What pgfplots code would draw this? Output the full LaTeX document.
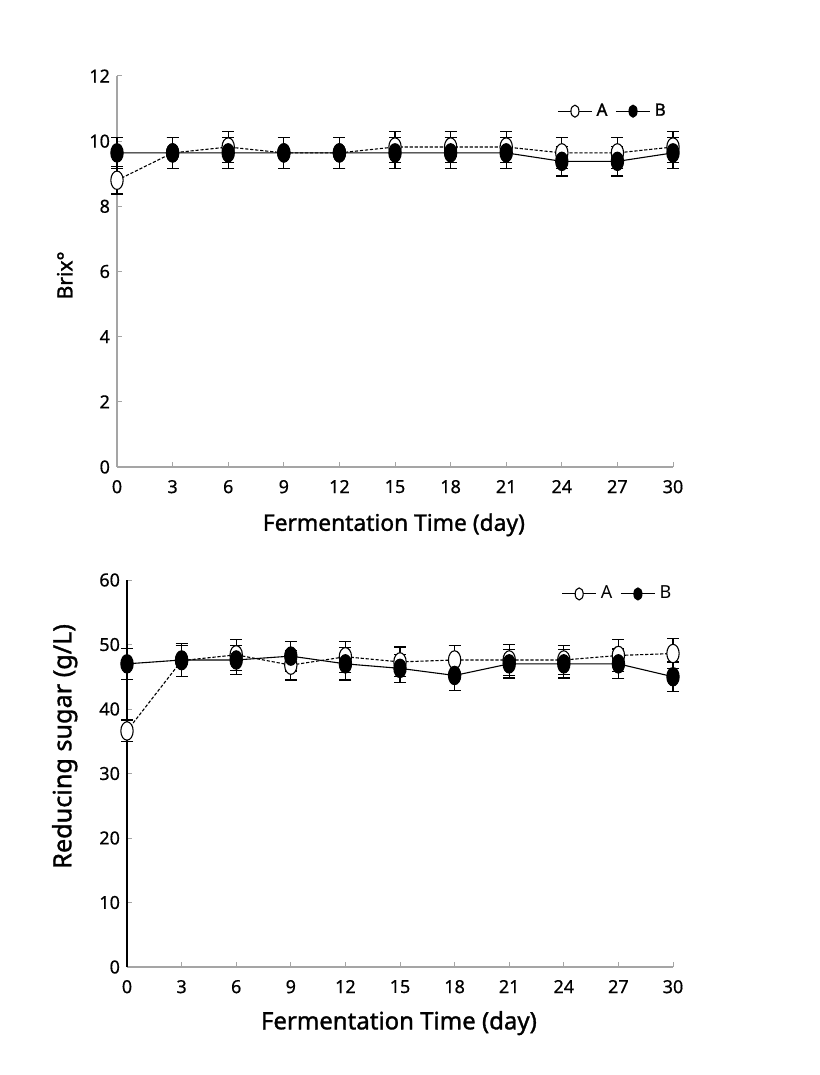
\documentclass[border=0pt]{standalone}
\usepackage{fontspec}
\setmainfont{Noto Sans}
\newfontfamily\labfont[FakeBold=1.3]{Noto Sans}
\newfontfamily\tickfont[FakeBold=0.5]{Noto Sans}
\usepackage{pgfplots}
\usepackage{pgfplotstable}
\pgfplotsset{compat=1.18}
\definecolor{axgray}{RGB}{165,165,165}

\pgfplotstableread{
x A Ae B Be
0 8.80 0.42 9.64 0.47
3 9.64 0.47 9.64 0.47
6 9.82 0.47 9.64 0.47
9 9.64 0.47 9.64 0.47
12 9.64 0.47 9.64 0.47
15 9.82 0.47 9.64 0.47
18 9.82 0.47 9.64 0.47
21 9.82 0.47 9.64 0.47
24 9.64 0.47 9.38 0.45
27 9.64 0.47 9.38 0.45
30 9.82 0.47 9.64 0.47
}\brix

\pgfplotstableread{
x A Ae B Be
0 36.6 1.7 47.0 2.4
3 47.5 2.4 47.6 2.5
6 48.4 2.4 47.6 2.3
9 46.8 2.3 48.2 2.3
12 48.1 2.4 47.0 2.5
15 47.3 2.3 46.3 2.2
18 47.6 2.3 45.2 2.3
21 47.6 2.4 47.0 2.2
24 47.6 2.3 47.0 2.2
27 48.3 2.5 47.0 2.3
30 48.6 2.3 45.0 2.3
}\sugar

\pgfplotsset{
  common/.style={
    scale only axis,
    xmin=0, xmax=30, xtick={0,3,...,30},
    axis lines*=left,
    tick align=inside,
    major tick length=2.5pt,
    tick style={axgray, line width=0.5pt},
    ticklabel style={font=\tickfont\fontsize{9}{10}\selectfont},
    xticklabel style={yshift=-3pt},
    /pgf/number format/assume math mode=true,
    clip=false,
    legend columns=2,
    legend style={draw=none, fill=none, /tikz/every even column/.append style={column sep=2pt}},
    legend image post style={mark size=3pt, solid},
  },
  serA/.style={black, line width=0.55pt, dash pattern=on 1.6pt off 0.9pt,
    mark=*, mark options={solid, fill=white, xscale=0.67}, mark size=4.6pt,
    error bars/.cd, y dir=both, y explicit,
    error bar style={solid, line width=0.6pt, black},
    error mark options={rotate=90, mark size=3pt, line width=0.6pt, black, solid}},
  serB/.style={black, line width=0.55pt, solid,
    mark=*, mark options={solid, fill=black, xscale=0.67}, mark size=4.6pt,
    error bars/.cd, y dir=both, y explicit,
    error bar style={solid, line width=0.6pt, black},
    error mark options={rotate=90, mark size=3pt, line width=0.6pt, black, solid}},
}

\begin{document}
\begin{tikzpicture}
\useasboundingbox (0,0) rectangle (409.5pt,537.5pt);

\begin{axis}[common,
  at={(58.5pt,304pt)}, anchor=south west,
  width=278pt, height=195.5pt,
  ymin=0, ymax=12, ytick={0,2,...,12},
  axis line style={axgray, line width=0.6pt},
  xlabel={Fermentation Time (day)},
  ylabel={Brix°},
  xlabel style={at={(axis description cs:0.498,-0.148)}, anchor=center, font=\labfont\fontsize{11.4}{13}\selectfont},
  ylabel style={at={(axis description cs:-0.094,0.49)}, anchor=center, font=\labfont\fontsize{10.5}{12}\selectfont},
  legend style={at={(0.893,0.91)}, anchor=center, font=\labfont\fontsize{8.5}{10}\selectfont},
]
\addplot+[serA] table[x=x, y=A, y error=Ae] {\brix};
\addlegendentry{A}
\addplot+[serB] table[x=x, y=B, y error=Be] {\brix};
\addlegendentry{B}
\end{axis}

\begin{axis}[common,
  at={(63.5pt,54pt)}, anchor=south west,
  width=273pt, height=193.5pt,
  ymin=0, ymax=60, ytick={0,10,...,60},
  x axis line style={axgray, line width=0.6pt},
  y axis line style={black, line width=0.6pt},
  xlabel={Fermentation Time (day)},
  ylabel={Reducing sugar (g/L)},
  xlabel style={at={(axis description cs:0.498,-0.145)}, anchor=center, font=\labfont\fontsize{12}{14}\selectfont},
  ylabel style={at={(axis description cs:-0.114,0.57)}, anchor=center, font=\labfont\fontsize{12.6}{14}\selectfont},
  legend style={at={(0.9,0.964)}, anchor=center, font=\fontsize{9}{10}\selectfont},
]
\addplot+[serA] table[x=x, y=A, y error=Ae] {\sugar};
\addlegendentry{A}
\addplot+[serB] table[x=x, y=B, y error=Be] {\sugar};
\addlegendentry{B}
\end{axis}
\end{tikzpicture}
\end{document}
